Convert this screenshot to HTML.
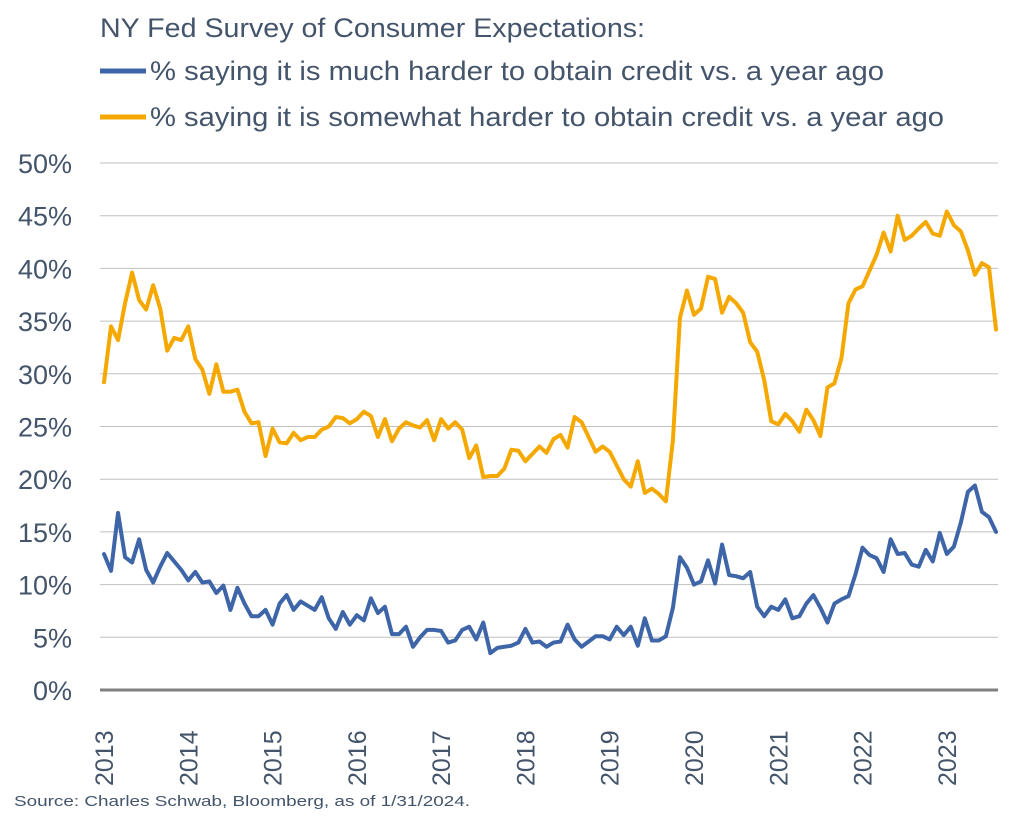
<!DOCTYPE html>
<html><head><meta charset="utf-8"><style>
body{margin:0;background:#fff;width:1022px;height:814px;overflow:hidden;font-family:"Liberation Sans",sans-serif;}
</style></head><body>
<svg id="chart" width="1022" height="814" xmlns="http://www.w3.org/2000/svg">
<text x="100" y="37" font-size="27" fill="#44546a" textLength="545" lengthAdjust="spacingAndGlyphs">NY Fed Survey of Consumer Expectations:</text>
<line x1="100" y1="71" x2="146" y2="71" stroke="#3e65a8" stroke-width="5"/>
<text x="150" y="80" font-size="27" fill="#44546a" textLength="734" lengthAdjust="spacingAndGlyphs">% saying it is much harder to obtain credit vs. a year ago</text>
<line x1="100" y1="117" x2="146" y2="117" stroke="#f5a800" stroke-width="5"/>
<text x="150" y="126" font-size="27" fill="#44546a" textLength="794" lengthAdjust="spacingAndGlyphs">% saying it is somewhat harder to obtain credit vs. a year ago</text>
<g id="grid"></g><g id="series"></g><g id="xlabels"></g>
<text x="14" y="806" font-size="15" fill="#44546a" textLength="456" lengthAdjust="spacingAndGlyphs">Source: Charles Schwab, Bloomberg, as of 1/31/2024.</text>
</svg>
<script>
const yTicks=[0,5,10,15,20,25,30,35,40,45,50];
const years=[2013,2014,2015,2016,2017,2018,2019,2020,2021,2022,2023];
const muchHarder=[12.9,11.3,16.8,12.6,12.1,14.3,11.4,10.2,11.7,13.0,12.2,11.4,10.4,11.2,10.2,10.3,9.2,9.9,7.6,9.7,8.2,7.0,7.0,7.6,6.2,8.2,9.0,7.6,8.4,8.0,7.6,8.8,6.8,5.8,7.4,6.2,7.1,6.6,8.7,7.3,7.9,5.3,5.3,6.0,4.1,5.0,5.7,5.7,5.6,4.5,4.7,5.7,6.0,4.8,6.4,3.5,4.0,4.1,4.2,4.5,5.8,4.5,4.6,4.1,4.5,4.6,6.2,4.8,4.1,4.6,5.1,5.1,4.8,6.0,5.2,6.0,4.2,6.8,4.7,4.7,5.1,7.8,12.6,11.6,10.0,10.3,12.3,10.1,13.8,10.9,10.8,10.6,11.2,7.9,7.0,7.9,7.6,8.6,6.8,7.0,8.2,9.0,7.8,6.4,8.2,8.6,8.9,11.0,13.5,12.8,12.5,11.2,14.3,12.9,13.0,11.9,11.7,13.3,12.2,14.9,12.9,13.6,15.9,18.8,19.4,16.9,16.4,15.0];
const somewhatHarder=[29.2,34.5,33.2,36.7,39.6,37.0,36.1,38.4,36.2,32.2,33.4,33.2,34.5,31.4,30.4,28.1,30.9,28.3,28.3,28.5,26.4,25.3,25.4,22.2,24.8,23.5,23.4,24.4,23.7,24.0,24.0,24.7,25.0,25.9,25.8,25.3,25.7,26.4,26.0,24.0,25.7,23.6,24.8,25.4,25.1,24.9,25.6,23.7,25.7,24.8,25.4,24.7,22.0,23.2,20.2,20.3,20.3,21.0,22.8,22.7,21.7,22.4,23.1,22.5,23.8,24.2,23.0,25.9,25.4,24.0,22.6,23.1,22.6,21.3,20.0,19.3,21.7,18.7,19.1,18.6,17.9,23.7,35.3,37.9,35.6,36.2,39.2,39.0,35.8,37.3,36.7,35.8,33.0,32.1,29.4,25.5,25.2,26.2,25.5,24.5,26.6,25.6,24.1,28.7,29.1,31.5,36.7,38.0,38.3,39.8,41.3,43.4,41.6,45.0,42.7,43.1,43.8,44.4,43.3,43.1,45.4,44.1,43.5,41.7,39.4,40.5,40.1,34.2];
const NS='http://www.w3.org/2000/svg';
const X0=104,X1=996,Y0=690,YTOP=163,XL=100,XR=998;
const xScaleN=(i,n)=>X0+i*(X1-X0)/(n-1);
const yScale=v=>Y0-(v/50)*(Y0-YTOP);
function mk(tag,attrs,parent){const e=document.createElementNS(NS,tag);for(const k in attrs)e.setAttribute(k,attrs[k]);parent.appendChild(e);return e;}
const grid=document.getElementById('grid');
yTicks.forEach(t=>{
  if(t>0){const l=mk('line',{x1:XL,x2:XR,y1:yScale(t),y2:yScale(t),stroke:'#c0c0c0','stroke-width':1},grid);
  
  }
  const tx=mk('text',{x:72,y:yScale(t)+10,'font-size':27,fill:'#44546a','text-anchor':'end'},grid);
  tx.textContent=t+'%';
  
  
});
const ax=mk('line',{x1:XL,x2:XR,y1:Y0,y2:Y0,stroke:'#808080','stroke-width':3},grid);


const ser=document.getElementById('series');
function line(data,color,name){
  const n=data.length;
  const p=mk('polyline',{points:data.map((v,i)=>xScaleN(i,n)+','+yScale(v)).join(' '),fill:'none',stroke:color,'stroke-width':4,'stroke-linejoin':'round','stroke-linecap':'round'},ser);
  
  
}
line(somewhatHarder,'#f5a800','somewhat-harder-line');
line(muchHarder,'#3e65a8','much-harder-line');
const xl=document.getElementById('xlabels');
years.forEach(y=>{
  const x=xScaleN((y-2013)*12,somewhatHarder.length)+9;
  const t=mk('text',{x:0,y:0,'font-size':25,fill:'#44546a',transform:'translate('+x+',786) rotate(-90)'},xl);
  t.textContent=y;
  
  
});
</script>
</body></html>
